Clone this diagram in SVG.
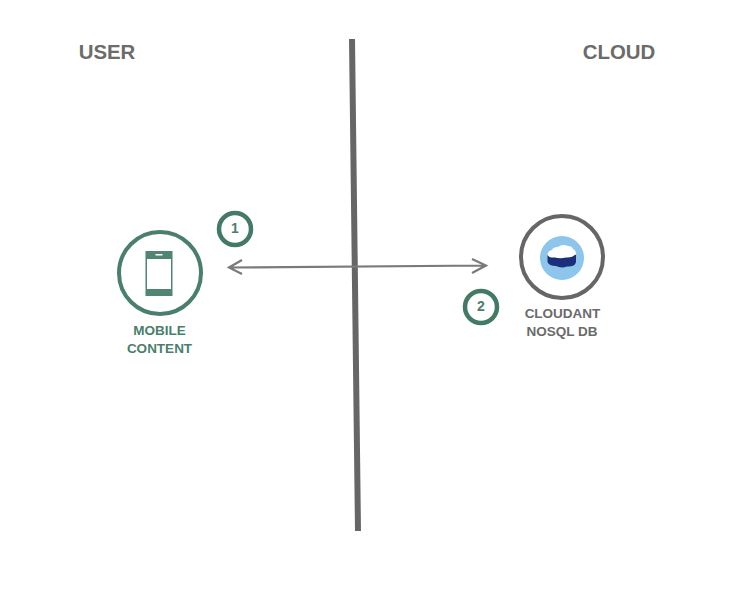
<svg xmlns="http://www.w3.org/2000/svg" width="740" height="592" viewBox="0 0 740 592">
<style>
text{font-family:"Liberation Sans",Arial,sans-serif;font-weight:700;text-anchor:middle}
.h{font-size:20.400px;fill:#6b6b6b}
.g{font-size:13.500px;fill:#4a7f6c}
.c{font-size:13.500px;fill:#6b6b6b}
.n{font-size:14px;fill:#4a7f6c}
.ring{fill:#fff;stroke:#437a66;stroke-width:4.500}
</style>
<rect width="740" height="592" fill="#fff"/>
<g id="connectors">
<line x1="352" y1="39" x2="358" y2="531" stroke="#666666" stroke-width="6"/>
<path d="M229 267.500L486 265.500M242 260L229 267.500L242 274M472 259L486 265.500L472 273" fill="none" stroke="#7a7a7a" stroke-width="2.200"/>
</g>
<g id="label-user"><text class="h" x="107" y="59">USER</text></g>
<g id="label-cloud"><text class="h" x="619" y="59">CLOUD</text></g>
<g id="node-mobile">
<circle cx="160" cy="273" r="41" fill="#fff" stroke="#4a7f6c" stroke-width="4"/>
<rect x="145.500" y="251" width="27" height="45" fill="#4f8571"/>
<rect x="147" y="259" width="24" height="30" fill="#fff"/>
<rect x="155.500" y="254" width="7" height="1.500" fill="#fff"/>
<text class="g" x="159.500" y="335">MOBILE</text>
<text class="g" x="159.500" y="353">CONTENT</text>
</g>
<g id="node-cloudant">
<circle cx="562" cy="257" r="41" fill="#fff" stroke="#666666" stroke-width="4"/>
<circle cx="562" cy="258" r="22" fill="#8dc6ea"/>
<path d="M547.500 255V262Q549 266 556 266Q561 268.500 567 266.500Q575 267 576 262V255Z" fill="#1c2f7a"/>
<path d="M547.500 255Q547.500 251 552 250Q553 247 558 247Q562 243.500 568 246Q572 246 573 249Q576 250 576 254Q572 258 566 257.500Q560 259 555 257.500Q549 258 547.500 255Z" fill="#fff"/>
<text class="c" x="562.500" y="318">CLOUDANT</text>
<text class="c" x="562" y="336">NOSQL DB</text>
</g>
<g id="badge-1">
<circle class="ring" cx="235" cy="229" r="16"/>
<text class="n" x="235" y="233">1</text>
</g>
<g id="badge-2">
<circle class="ring" cx="481" cy="307" r="16"/>
<text class="n" x="481" y="311">2</text>
</g>
</svg>
